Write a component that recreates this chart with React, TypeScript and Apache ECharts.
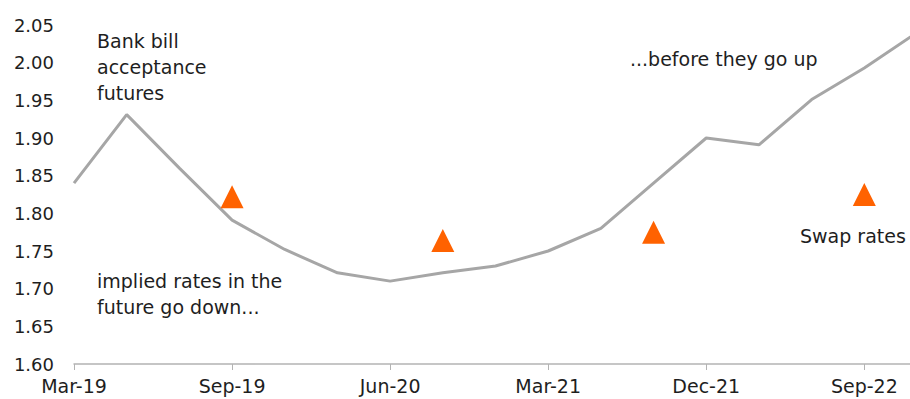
import React, { useEffect, useRef } from "react";
import * as echarts from "echarts";

const categories = [
  "Mar-19", "Apr-19", "Jun-19", "Sep-19", "Dec-19", "Mar-20", "Jun-20", "Sep-20", "Dec-20",
  "Mar-21", "Jun-21", "Sep-21", "Dec-21", "Mar-22", "Jun-22", "Sep-22", "Dec-22",
];
const futures = [1.84, 1.931, 1.86, 1.791, 1.752, 1.721, 1.71, 1.721, 1.73, 1.75, 1.78, 1.84, 1.9, 1.891, 1.951, 1.993, 2.04];
const swapRates: (number | null)[] = [
  null, null, null, 1.822, null, null, null, 1.764, null, null, null, 1.775, null, null, null, 1.825, null,
];
const yTicks = { min: 1.6, max: 2.05, interval: 0.05 };

const FONT = "'DejaVu Sans', sans-serif";
const TXT = "#1e1e1e";

export default function App() {
  const ref = useRef<HTMLDivElement>(null);
  useEffect(() => {
    if (!ref.current) return;
    const chart = echarts.init(ref.current, undefined, { renderer: "svg" });
    chart.setOption({
      animation: false,
      textStyle: { fontFamily: FONT },
      grid: { left: 74, right: 0, top: 25, bottom: 35, containLabel: false },
      xAxis: {
        type: "category",
        data: categories,
        boundaryGap: false,
        axisLine: { show: true, lineStyle: { color: "#b3b3b3", width: 1.5 } },
        axisTick: {
          show: true,
          length: 6,
          lineStyle: { color: "#b3b3b3" },
          interval: (i: number) => i % 3 === 0,
        },
        axisLabel: {
          color: TXT,
          fontSize: 19,
          fontFamily: FONT,
          margin: 12,
          interval: (i: number) => i % 3 === 0,
        },
        splitLine: { show: false },
      },
      yAxis: {
        type: "value",
        min: yTicks.min,
        max: yTicks.max,
        interval: yTicks.interval,
        axisLine: { show: false },
        axisTick: { show: false },
        splitLine: { show: false },
        axisLabel: {
          color: TXT,
          fontSize: 18,
          fontFamily: FONT,
          margin: 20,
          formatter: (v: number) => v.toFixed(2),
        },
      },
      series: [
        {
          type: "line",
          data: futures,
          symbol: "none",
          lineStyle: { color: "#a6a6a6", width: 3 },
          z: 2,
        },
        {
          type: "scatter",
          data: swapRates,
          symbol: "triangle",
          symbolSize: [23, 23],
          itemStyle: { color: "#ff6200", opacity: 1 },
          z: 3,
        },
      ],
      graphic: [
        {
          type: "text",
          left: 97,
          top: 28,
          style: { text: "Bank bill\nacceptance\nfutures", fill: TXT, fontSize: 19, fontFamily: FONT, lineHeight: 26 },
        },
        {
          type: "text",
          left: 97,
          top: 268,
          style: { text: "implied rates in the\nfuture go down...", fill: TXT, fontSize: 19, fontFamily: FONT, lineHeight: 26 },
        },
        {
          type: "text",
          left: 630,
          top: 46,
          style: { text: "...before they go up", fill: TXT, fontSize: 19, fontFamily: FONT, lineHeight: 26 },
        },
        {
          type: "text",
          left: 800,
          top: 223,
          style: { text: "Swap rates", fill: TXT, fontSize: 19, fontFamily: FONT, lineHeight: 26 },
        },
      ],
    });
    return () => chart.dispose();
  }, []);
  return (
    <div style={{ position: "absolute", left: 0, top: 0, width: 910, height: 399, overflow: "hidden" }}>
      <div ref={ref} style={{ width: 917, height: 399 }} />
    </div>
  );
}
